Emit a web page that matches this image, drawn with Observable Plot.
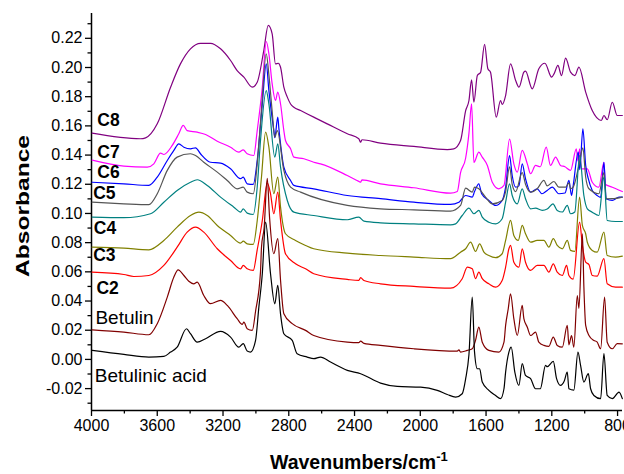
<!DOCTYPE html>
<html>
<head>
<meta charset="utf-8">
<script src="https://cdn.jsdelivr.net/npm/d3@7"></script>
<script src="https://cdn.jsdelivr.net/npm/@observablehq/plot@0.6"></script>
<style>
  html, body { margin: 0; padding: 0; background: #fff; }
  #chart { width: 624px; height: 474px; overflow: hidden; }
  svg { font-family: "Liberation Sans", Arial, sans-serif; }
</style>
</head>
<body>
<div id="chart"></div>
<script>
// ---- Data: [wavenumber (cm-1), absorbance] ----
const c8 = [[3996,0.155],[3702,0.1512],[3671,0.1518],[3600,0.1614],[3519,0.1865],[3459,0.2025],[3398,0.2128],[3337,0.2166],[3276,0.2166],[3215,0.2128],[3154,0.2048],[3114,0.1979],[3073,0.1934],[3022,0.1865],[2992,0.1899],[2952,0.2116],[2925,0.2288],[2901,0.2231],[2881,0.2025],[2864,0.2029],[2850,0.2002],[2830,0.1865],[2809,0.1797],[2789,0.175],[2769,0.1728],[2728,0.1705],[2648,0.166],[2566,0.1614],[2444,0.1546],[2374,0.1512],[2363,0.1488],[2355,0.1505],[2242,0.1482],[2039,0.1459],[1836,0.1438],[1796,0.1443],[1755,0.15],[1724,0.1705],[1704,0.1774],[1688,0.1916],[1674,0.1762],[1653,0.1945],[1633,0.1968],[1609,0.2158],[1589,0.1991],[1573,0.1968],[1538,0.166],[1512,0.1774],[1502,0.1747],[1481,0.1808],[1451,0.2025],[1420,0.1911],[1400,0.1865],[1370,0.1968],[1360,0.1975],[1319,0.1854],[1279,0.1991],[1242,0.2029],[1201,0.1934],[1185,0.196],[1163,0.2014],[1141,0.1945],[1116,0.2064],[1086,0.1968],[1060,0.1945],[1035,0.2002],[994,0.1831],[954,0.1705],[899,0.1637],[883,0.1671],[863,0.1642],[832,0.1762],[802,0.1671],[771,0.1671]];
const c7 = [[3996,0.1365],[3803,0.1324],[3661,0.1317],[3621,0.134],[3580,0.1413],[3560,0.1404],[3509,0.1466],[3469,0.1546],[3442,0.1603],[3418,0.1568],[3357,0.1557],[3306,0.1541],[3235,0.1495],[3154,0.1454],[3104,0.142],[3077,0.1436],[3053,0.1409],[3013,0.1397],[2992,0.1568],[2961,0.1865],[2937,0.2178],[2921,0.2094],[2901,0.1888],[2881,0.1774],[2867,0.1831],[2850,0.175],[2830,0.1568],[2820,0.15],[2789,0.1443],[2769,0.1386],[2708,0.1375],[2648,0.1351],[2607,0.134],[2444,0.126],[2374,0.122],[2363,0.1214],[2355,0.123],[2242,0.1203],[2039,0.1176],[1816,0.1139],[1775,0.1151],[1755,0.128],[1724,0.138],[1704,0.155],[1688,0.1751],[1674,0.135],[1644,0.142],[1623,0.1386],[1592,0.1329],[1562,0.1214],[1522,0.1169],[1491,0.1192],[1457,0.151],[1431,0.134],[1410,0.1283],[1380,0.1432],[1349,0.134],[1329,0.1272],[1299,0.1329],[1270,0.132],[1234,0.1454],[1208,0.1329],[1177,0.1386],[1147,0.1329],[1120,0.132],[1086,0.1295],[1051,0.1443],[1041,0.136],[1031,0.1443],[1020,0.1306],[984,0.1306],[954,0.1214],[914,0.118],[883,0.1351],[875,0.12],[832,0.118],[771,0.115]];
const c6 = [[3996,0.1214],[3803,0.1203],[3651,0.1192],[3600,0.1249],[3539,0.1363],[3499,0.1432],[3469,0.1477],[3438,0.1454],[3398,0.1443],[3367,0.145],[3337,0.1409],[3276,0.1351],[3215,0.1345],[3154,0.1306],[3093,0.1238],[3077,0.1249],[3053,0.1203],[3016,0.1199],[2992,0.1363],[2961,0.1751],[2937,0.2025],[2921,0.1842],[2891,0.1568],[2885,0.152],[2867,0.166],[2860,0.158],[2830,0.1317],[2789,0.1226],[2769,0.1192],[2648,0.1169],[2444,0.1123],[2242,0.1101],[2039,0.1077],[1816,0.1062],[1765,0.1077],[1724,0.1123],[1684,0.1112],[1670,0.115],[1644,0.1203],[1627,0.1135],[1583,0.1089],[1542,0.1055],[1502,0.1089],[1481,0.118],[1457,0.1397],[1441,0.126],[1420,0.118],[1400,0.1189],[1380,0.134],[1360,0.1238],[1329,0.1146],[1289,0.1169],[1260,0.1135],[1228,0.1158],[1197,0.118],[1157,0.1135],[1120,0.114],[1096,0.1226],[1080,0.1123],[1070,0.119],[1039,0.142],[1030,0.13],[1011,0.158],[994,0.1329],[978,0.1238],[954,0.1158],[924,0.1123],[903,0.111],[883,0.1351],[869,0.1101],[832,0.1089],[791,0.1112],[771,0.1112]];
const c5 = [[3996,0.1077],[3803,0.1066],[3651,0.106],[3600,0.1135],[3539,0.1295],[3479,0.1386],[3398,0.1409],[3367,0.1397],[3317,0.1351],[3235,0.1283],[3174,0.1226],[3114,0.1169],[3077,0.118],[3053,0.1146],[3016,0.1135],[2992,0.134],[2968,0.1683],[2937,0.2094],[2921,0.195],[2901,0.17],[2885,0.1523],[2870,0.1568],[2830,0.1295],[2789,0.118],[2728,0.1146],[2444,0.1055],[2242,0.1032],[2039,0.1025],[1816,0.1016],[1755,0.1055],[1724,0.1173],[1684,0.1146],[1670,0.118],[1644,0.1169],[1603,0.1112],[1562,0.1066],[1502,0.1089],[1481,0.115],[1457,0.132],[1441,0.12],[1420,0.115],[1380,0.128],[1360,0.12],[1329,0.1146],[1289,0.1169],[1248,0.1226],[1228,0.1189],[1187,0.1219],[1157,0.118],[1116,0.118],[1096,0.121],[1086,0.1169],[1070,0.118],[1035,0.133],[1011,0.145],[994,0.125],[974,0.1169],[914,0.1135],[883,0.128],[869,0.11],[832,0.1101],[771,0.1112]];
const c4 = [[3996,0.0975],[3803,0.0971],[3641,0.0998],[3560,0.1077],[3479,0.1158],[3398,0.1214],[3357,0.1231],[3296,0.1192],[3215,0.1112],[3134,0.1043],[3093,0.1009],[3077,0.1032],[3053,0.1002],[3016,0.0993],[2992,0.118],[2972,0.15],[2937,0.1842],[2921,0.1751],[2885,0.1386],[2867,0.1477],[2850,0.1317],[2809,0.1089],[2769,0.1009],[2648,0.0986],[2444,0.0957],[2374,0.0975],[2343,0.0947],[2242,0.0936],[2039,0.0929],[1816,0.0922],[1785,0.0929],[1745,0.0986],[1704,0.1036],[1674,0.0998],[1644,0.1021],[1623,0.0975],[1583,0.094],[1542,0.0929],[1502,0.0964],[1481,0.1077],[1457,0.1203],[1441,0.1123],[1410,0.1066],[1380,0.1169],[1360,0.1101],[1329,0.1032],[1299,0.1036],[1258,0.1021],[1228,0.103],[1193,0.1066],[1167,0.1021],[1136,0.101],[1106,0.1055],[1086,0.0998],[1060,0.101],[1031,0.1397],[1005,0.1123],[984,0.1032],[954,0.1009],[914,0.0986],[883,0.125],[863,0.0952],[812,0.0945],[771,0.0945]];
const c3 = [[3996,0.0769],[3803,0.0762],[3651,0.0751],[3560,0.0815],[3479,0.0906],[3398,0.0986],[3347,0.1009],[3296,0.0986],[3235,0.0918],[3154,0.0849],[3093,0.0797],[3077,0.081],[3053,0.0792],[3016,0.0788],[2992,0.095],[2966,0.125],[2941,0.1557],[2921,0.1454],[2891,0.1135],[2867,0.1249],[2850,0.1043],[2820,0.0861],[2759,0.0815],[2698,0.0781],[2648,0.0758],[2444,0.0728],[2242,0.0712],[2039,0.0701],[1816,0.069],[1755,0.0735],[1724,0.0758],[1694,0.0803],[1664,0.074],[1639,0.0792],[1613,0.0735],[1583,0.0712],[1542,0.0697],[1502,0.0724],[1481,0.0815],[1451,0.0952],[1431,0.0849],[1404,0.0815],[1380,0.0918],[1360,0.0861],[1329,0.0803],[1289,0.0815],[1248,0.0815],[1218,0.0769],[1191,0.0827],[1167,0.0781],[1136,0.0758],[1106,0.0815],[1086,0.0747],[1060,0.074],[1031,0.1112],[1014,0.0918],[994,0.0861],[984,0.0803],[954,0.0747],[924,0.0735],[883,0.0872],[863,0.0712],[812,0.0701],[771,0.0708]];
const c2 = [[3996,0.0598],[3803,0.0582],[3743,0.0568],[3651,0.0575],[3560,0.0644],[3479,0.0769],[3418,0.0872],[3367,0.0906],[3317,0.0872],[3235,0.0758],[3154,0.0678],[3093,0.0621],[3077,0.0644],[3053,0.0621],[3016,0.061],[2992,0.075],[2961,0.0952],[2931,0.121],[2911,0.1135],[2891,0.0998],[2867,0.1146],[2850,0.0952],[2820,0.0724],[2759,0.0655],[2698,0.0621],[2648,0.0587],[2444,0.0548],[2374,0.0541],[2363,0.056],[2343,0.0541],[2242,0.0518],[2039,0.05],[1816,0.0488],[1745,0.0553],[1714,0.0632],[1684,0.0621],[1664,0.0553],[1644,0.0598],[1623,0.0553],[1583,0.0518],[1542,0.0495],[1502,0.0541],[1481,0.0632],[1461,0.0758],[1451,0.0781],[1431,0.0666],[1400,0.0632],[1380,0.0758],[1360,0.0666],[1329,0.061],[1289,0.0644],[1248,0.0644],[1218,0.0598],[1191,0.0655],[1167,0.0598],[1136,0.0575],[1110,0.0644],[1096,0.0575],[1070,0.055],[1031,0.094],[1014,0.0781],[994,0.0666],[974,0.065],[954,0.0575],[924,0.057],[883,0.069],[863,0.0518],[812,0.0495],[771,0.0495]];
const betulin = [[3996,0.0203],[3803,0.0187],[3651,0.0169],[3600,0.0245],[3539,0.0427],[3499,0.0564],[3473,0.0614],[3438,0.0575],[3408,0.0536],[3378,0.0518],[3357,0.0529],[3317,0.0438],[3276,0.0382],[3215,0.0404],[3174,0.037],[3114,0.0279],[3083,0.024],[3073,0.0255],[3053,0.021],[3022,0.0199],[3002,0.033],[2972,0.06],[2966,0.0769],[2950,0.09],[2931,0.124],[2917,0.0975],[2891,0.0724],[2867,0.0827],[2850,0.0541],[2830,0.0313],[2779,0.0245],[2698,0.0199],[2648,0.0164],[2444,0.0119],[2374,0.0115],[2363,0.0125],[2343,0.011],[2242,0.0096],[2039,0.0073],[1775,0.0057],[1765,0.0065],[1755,0.005],[1714,0.0062],[1684,0.0073],[1664,0.013],[1644,0.0221],[1623,0.0118],[1583,0.0062],[1522,0.005],[1491,0.0118],[1481,0.0233],[1465,0.0347],[1451,0.045],[1431,0.0279],[1410,0.0164],[1380,0.037],[1370,0.028],[1349,0.0221],[1329,0.0164],[1299,0.0187],[1279,0.0118],[1248,0.0096],[1218,0.009],[1191,0.0153],[1167,0.0096],[1136,0.0084],[1106,0.0233],[1096,0.01],[1080,0.0164],[1066,0.0084],[1045,0.0438],[1035,0.035],[1014,0.086],[1005,0.05],[994,0.0233],[974,0.0164],[944,0.013],[925,0.012],[903,0.0073],[879,0.0427],[863,0.0118],[832,0.0073],[802,0.0108],[771,0.0107]];
const betulinicAcid = [[3996,0.0062],[3803,0.0034],[3651,0.0016],[3560,0.0021],[3519,0.005],[3479,0.0084],[3422,0.021],[3398,0.0176],[3357,0.0118],[3306,0.0142],[3215,0.0192],[3154,0.0153],[3104,0.0084],[3077,0.0108],[3053,0.0057],[3033,0.005],[3002,0.013],[2982,0.0358],[2961,0.0587],[2941,0.094],[2911,0.0587],[2885,0.0381],[2867,0.0507],[2850,0.031],[2830,0.0176],[2779,0.013],[2749,0.0039],[2688,0.0016],[2648,0.0005],[2607,0.0016],[2546,-0.0018],[2444,-0.0075],[2363,-0.0098],[2242,-0.0162],[2140,-0.0185],[1998,-0.019],[1897,-0.0212],[1836,-0.024],[1785,-0.0258],[1745,-0.0235],[1724,-0.0132],[1704,0.0034],[1684,0.0427],[1670,0.005],[1653,-0.0064],[1639,-0.0064],[1623,-0.0155],[1583,-0.0212],[1542,-0.0247],[1512,-0.0269],[1491,-0.0201],[1481,-0.0087],[1461,0.005],[1447,0.0084],[1425,-0.0087],[1400,-0.0178],[1380,-0.0029],[1360,-0.011],[1329,-0.0132],[1299,-0.0201],[1270,-0.0201],[1238,-0.0041],[1228,-0.005],[1191,-0.0014],[1171,-0.0132],[1147,-0.0178],[1125,-0.015],[1106,-0.0087],[1096,-0.0201],[1066,-0.021],[1041,0.005],[1025,-0.0041],[1005,-0.0155],[978,-0.0098],[964,-0.0201],[944,-0.0247],[903,-0.0269],[883,0.0039],[863,-0.0247],[832,-0.0269],[791,-0.0224],[771,-0.0269]];

const seriesNames = ["C8","C7","C6","C5","C4","C3","C2","Betulin","Betulinic acid"];
const seriesData = [c8, c7, c6, c5, c4, c3, c2, betulin, betulinicAcid];
const seriesColors = ["#800080","#ff00ff","#0000ff","#555555","#008080","#808000","#ff0000","#800000","#000000"];
// label anchor positions [wavenumber, absorbance]
const labelPos = [[3965,0.1637],[3965,0.142],[3965,0.1283],[3990,0.1135],[3986,0.0895],[3990,0.0712],[3970,0.0484],[3976,0.0284],[3980,-0.0115]];
const labelBold = [true,true,true,true,true,true,true,false,false];

const xMajor = [4000,3600,3200,2800,2400,2000,1600,1200,800];
const xMinor = [3800,3400,3000,2600,2200,1800,1400,1000];
const yMajor = [-0.02,0.00,0.02,0.04,0.06,0.08,0.10,0.12,0.14,0.16,0.18,0.20,0.22];
const yMinor = [-0.03,-0.01,0.01,0.03,0.05,0.07,0.09,0.11,0.13,0.15,0.17,0.19,0.21,0.23];
const xDomain = [4000, 770];
const yDomain = [-0.035, 0.237];

const rows = [];
seriesData.forEach((arr, i) => arr.forEach(([wn, a]) => rows.push({series: seriesNames[i], wn, a})));
const labels = seriesNames.map((name, i) => ({name, wn: labelPos[i][0], a: labelPos[i][1], bold: labelBold[i]}));

const plot = Plot.plot({
  width: 624,
  height: 474,
  marginLeft: 91,
  marginRight: 2,
  marginTop: 13,
  marginBottom: 64,
  style: {fontFamily: '"Liberation Sans", Arial, sans-serif', fontSize: "16px", color: "#000", background: "#fff"},
  x: {domain: xDomain, axis: null},
  y: {domain: yDomain, axis: null},
  color: {domain: seriesNames, range: seriesColors},
  marks: [
    Plot.axisX(xMajor, {tickSize: 6, tickPadding: 3, fontSize: 16, label: null, tickFormat: d => String(d), stroke: "#000", strokeWidth: 1.3}),
    Plot.axisX(xMinor, {tickSize: 3.5, label: null, tickFormat: () => "", stroke: "#000", strokeWidth: 1.3}),
    Plot.axisY(yMajor, {tickSize: 6, tickPadding: 3, fontSize: 16, label: null, tickFormat: d => d.toFixed(2), stroke: "#000", strokeWidth: 1.3}),
    Plot.axisY(yMinor, {tickSize: 3.5, label: null, tickFormat: () => "", stroke: "#000", strokeWidth: 1.3}),
    Plot.ruleX([xDomain[0]], {y1: yDomain[0], y2: yDomain[1], stroke: "#000", strokeWidth: 1.5}),
    Plot.ruleY([yDomain[0]], {x1: xDomain[0], x2: xDomain[1], stroke: "#000", strokeWidth: 1.5}),
    Plot.line(rows, {x: "wn", y: "a", z: "series", stroke: "series", strokeWidth: 1.2, curve: "monotone-x"}),
    Plot.text(labels.filter(d => d.bold), {x: "wn", y: "a", text: "name", textAnchor: "start", fontWeight: "bold", fontSize: 17.5, fill: "#000"}),
    Plot.text(labels.filter(d => !d.bold), {x: "wn", y: "a", text: "name", textAnchor: "start", fontSize: 19, fill: "#000"})
  ]
});
document.getElementById("chart").appendChild(plot);

// axis titles
const svg = d3.select(plot);
svg.append("text")
  .attr("transform", "translate(29,206) rotate(-90)")
  .attr("text-anchor", "middle")
  .attr("font-weight", "bold")
  .attr("font-size", 19)
  .attr("textLength", 142)
  .attr("lengthAdjust", "spacingAndGlyphs")
  .attr("fill", "#000")
  .text("Absorbance");
const xt = svg.append("text")
  .attr("x", 270)
  .attr("y", 469)
  .attr("text-anchor", "start")
  .attr("font-weight", "bold")
  .attr("font-size", 19.5)
  .attr("fill", "#000");
xt.append("tspan").text("Wavenumbers/cm");
xt.append("tspan").attr("dy", -8).attr("font-size", 13).text("-1");
</script>
</body>
</html>
